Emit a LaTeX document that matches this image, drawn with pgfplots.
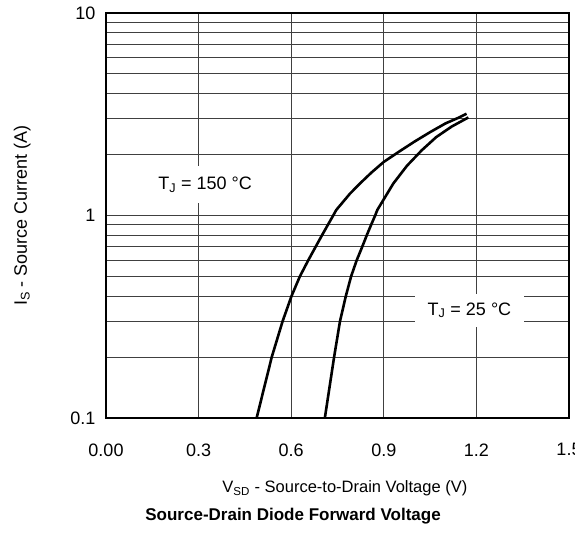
\documentclass[border=0pt]{standalone}
\usepackage{fontspec}
\setmainfont{Liberation Sans}
\usepackage{pgfplots}
\pgfplotsset{compat=1.18}

% forward characteristic
\pgfplotstableread{
vsd   is
0.488 0.10
0.537 0.20
0.572 0.30
0.601 0.40
0.628 0.50
0.655 0.60
0.679 0.70
0.700 0.80
0.719 0.90
0.736 1.00
0.746 1.065
0.790 1.28
0.823 1.44
0.860 1.63
0.900 1.84
0.950 2.07
1.000 2.32
1.050 2.58
1.100 2.85
1.140 3.03
1.168 3.18
}\hot
\pgfplotstableread{
vsd   is
0.709 0.10
0.739 0.20
0.758 0.30
0.777 0.40
0.794 0.50
0.812 0.60
0.830 0.70
0.845 0.80
0.859 0.90
0.872 1.00
0.879 1.065
0.931 1.44
0.975 1.76
1.023 2.10
1.070 2.44
1.120 2.75
1.174 3.05
}\cold

\begin{document}
\begin{tikzpicture}[font=\fontsize{18}{21}\selectfont]
  \begin{axis}[
      scale only axis,
      width=463pt,
      height=405pt,
      ymode=log,
      xmin=0, xmax=1.5,
      ymin=0.1, ymax=10,
      xtick={0,0.3,0.6,0.9,1.2,1.5},
      xticklabels={0.00,0.3,0.6,0.9,1.2,1.5},
      ytick={0.1,1,10},
      yticklabels={0.1,1,10},
      minor ytick={0.2,0.3,0.4,0.5,0.6,0.7,0.8,0.9,2,3,4,5,6,7,8,9},
      major tick length=0pt,
      minor tick length=0pt,
      grid=both,
      major grid style={black!75, line width=1pt},
      minor grid style={black!75, line width=1pt},
      axis line style={black, line width=2pt},
      xticklabel style={yshift=-22pt},
      yticklabel style={xshift=-7pt},
      xlabel={V\textsubscript{SD} - Source-to-Drain Voltage (V)},
      ylabel={I\textsubscript{S} - Source Current (A)},
      xlabel style={at={(axis description cs:0.516,-0.174)}, anchor=center,
                    font=\fontsize{16.5}{20}\selectfont},
      ylabel style={at={(axis description cs:-0.181,0.5)}, anchor=center},
      clip=false,
    ]
    \addplot[black, line width=2.6pt, line join=round] table[x=vsd, y=is] {\hot};
    \addplot[black, line width=2.6pt, line join=round] table[x=vsd, y=is] {\cold};
    \node[fill=white, inner sep=0pt, minimum width=118pt, minimum height=37pt] at (axis cs:0.321,1.42) {T\textsubscript{J} = 150 °C};
    \node[fill=white, inner sep=0pt, minimum width=109pt, minimum height=33pt] at (axis cs:1.1775,0.340) {T\textsubscript{J} = 25 °C};
    \node[font=\fontsize{17}{20}\selectfont\bfseries] at (axis description cs:0.404,-0.243) {Source-Drain Diode Forward Voltage};
  \end{axis}
  \pgfresetboundingbox
  \path ([xshift=-106pt,yshift=-114pt]current axis.south west) rectangle ([xshift=6pt,yshift=13pt]current axis.north east);
\end{tikzpicture}
\end{document}
